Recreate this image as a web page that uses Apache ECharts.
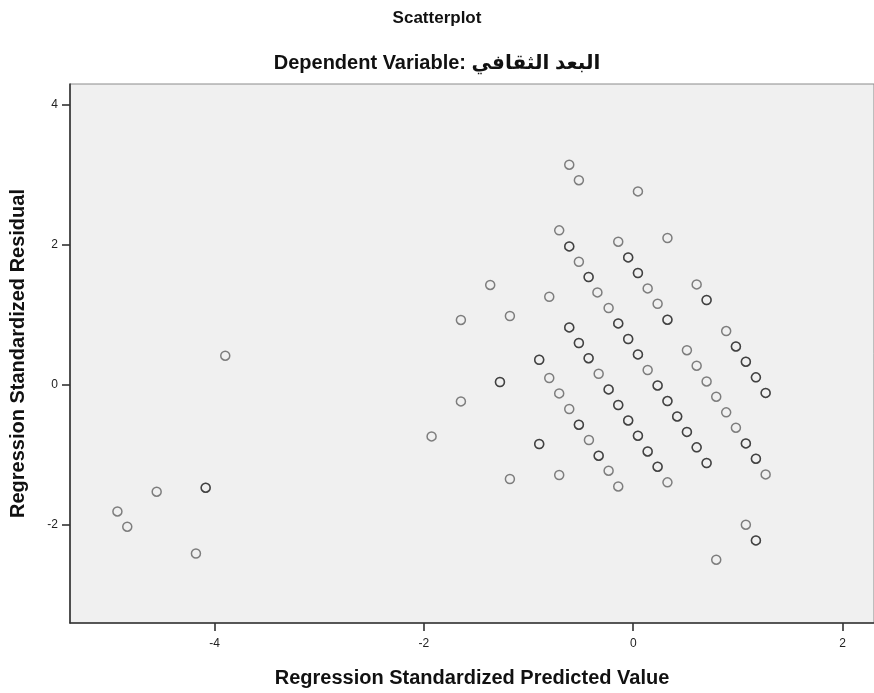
<!DOCTYPE html>
<html>
<head>
<meta charset="utf-8">
<title>Scatterplot</title>
<script src="https://cdn.jsdelivr.net/npm/echarts@6/dist/echarts.min.js"></script>
<style>
  html, body { margin: 0; padding: 0; background: #ffffff; }
  #chart { width: 874px; height: 693px; }
</style>
</head>
<body>
<div id="chart"></div>
<script>
// Regression standardized predicted value (x) for each plotted spot
const predicted = [
  -4.927, -4.833, -4.177, -4.552, -4.084, -3.897,
  -1.926, -1.646, -1.646, -1.366, -1.273, -1.178, -1.178,
  -0.898, -0.898, -0.802, -0.802, -0.707, -0.707, -0.707,
  -0.611, -0.611, -0.611, -0.611, -0.519, -0.519, -0.519, -0.519,
  -0.426, -0.426, -0.423, -0.342, -0.330, -0.330,
  -0.235, -0.235, -0.235, -0.143, -0.143, -0.143, -0.143,
  -0.048, -0.048, -0.048, 0.045, 0.045, 0.045, 0.045,
  0.138, 0.138, 0.138, 0.233, 0.233, 0.233,
  0.327, 0.327, 0.327, 0.327, 0.420, 0.513, 0.513,
  0.606, 0.606, 0.606, 0.701, 0.701, 0.701,
  0.793, 0.793, 0.888, 0.888, 0.981, 0.981,
  1.076, 1.076, 1.076, 1.172, 1.172, 1.172, 1.265, 1.265
];
// Regression standardized residual (y) for each plotted spot
const residual = [
  -1.806, -2.024, -2.407, -1.524, -1.467, 0.419,
  -0.734, 0.929, -0.234, 1.429, 0.043, 0.986, -1.343,
  0.361, -0.843, 1.261, 0.100, 2.209, -0.120, -1.286,
  3.147, 1.980, 0.823, -0.343, 2.926, 1.761, 0.600, -0.567,
  1.543, 0.383, -0.786, 1.323, 0.161, -1.010,
  1.100, -0.063, -1.224, 2.047, 0.880, -0.286, -1.449,
  1.823, 0.657, -0.506, 2.766, 1.600, 0.437, -0.724,
  1.380, 0.214, -0.949, 1.161, -0.006, -1.167,
  2.100, 0.933, -0.229, -1.391, -0.449, 0.497, -0.670,
  1.437, 0.276, -0.891, 1.214, 0.051, -1.114,
  -0.167, -2.496, 0.771, -0.391, 0.551, -0.610,
  0.333, -0.834, -1.996, 0.109, -1.053, -2.220, -0.113, -1.277
];
// Number of cases sharing each spot
const cases = [
  1, 1, 1, 1, 2, 1,
  1, 1, 1, 1, 2, 1, 1,
  2, 2, 1, 1, 1, 1, 1,
  1, 2, 2, 1, 1, 1, 2, 2,
  2, 2, 1, 1, 1, 2,
  1, 2, 1, 1, 2, 2, 1,
  2, 2, 2, 1, 2, 2, 2,
  1, 1, 2, 1, 2, 2,
  1, 2, 2, 1, 2, 1, 2,
  1, 1, 2, 2, 1, 2,
  1, 1, 1, 1, 2, 1,
  2, 2, 1, 2, 2, 2, 2, 1
];
const xTicks = [-4, -2, 0, 2];
const yTicks = [-2, 0, 2, 4];

const titleText = 'Scatterplot';
const subtitleText = 'Dependent Variable: البعد الثقافي';
const xName = 'Regression Standardized Predicted Value';
const yName = 'Regression Standardized Residual';

// One point per case; coinciding cases overlap and print darker
const points = [];
predicted.forEach((x, i) => {
  for (let k = 0; k < cases[i]; k++) points.push([x, residual[i]]);
});

const font = '"Liberation Sans", Arial, "DejaVu Sans", sans-serif';

const chart = echarts.init(document.getElementById('chart'), null, { renderer: 'canvas' });
chart.setOption({
  animation: false,
  backgroundColor: '#ffffff',
  textStyle: { fontFamily: font },
  title: [
    {
      text: titleText, left: 'center', top: 10, padding: 0,
      textStyle: { fontFamily: font, fontSize: 17, fontWeight: 'bold', color: '#111' }
    },
    {
      text: subtitleText, left: 'center', top: 53, padding: 0,
      textStyle: { fontFamily: font, fontSize: 20, fontWeight: 'bold', color: '#111' }
    }
  ],
  grid: {
    left: 70, top: 84, right: 0, bottom: 70,
    show: true, backgroundColor: '#f0f0f0',
    borderColor: '#8a8a8a', borderWidth: 1
  },
  xAxis: {
    type: 'value', min: -5.38, max: 2.3,
    name: xName, nameLocation: 'middle', nameGap: 45,
    nameTextStyle: { fontFamily: font, fontSize: 20, fontWeight: 'bold', color: '#111' },
    axisLine: { show: true, onZero: false, lineStyle: { color: '#333', width: 1.6 } },
    axisTick: { show: true, customValues: xTicks, length: 8, lineStyle: { color: '#333', width: 1.6 } },
    axisLabel: { customValues: xTicks, margin: 15, fontSize: 12, color: '#222', fontFamily: font },
    splitLine: { show: false }
  },
  yAxis: {
    type: 'value', min: -3.4, max: 4.3,
    name: yName, nameLocation: 'middle', nameGap: 42,
    nameTextStyle: { fontFamily: font, fontSize: 20, fontWeight: 'bold', color: '#111' },
    axisLine: { show: true, onZero: false, lineStyle: { color: '#333', width: 1.6 } },
    axisTick: { show: true, customValues: yTicks, length: 8, lineStyle: { color: '#333', width: 1.6 } },
    axisLabel: { customValues: yTicks, margin: 12, fontSize: 12, color: '#222', fontFamily: font },
    splitLine: { show: false }
  },
  series: [{
    type: 'scatter',
    data: points,
    symbol: 'circle',
    symbolSize: 9,
    itemStyle: { color: 'rgba(0,0,0,0)', borderColor: 'rgba(0,0,0,0.6)', borderWidth: 1.5 },
    emphasis: { disabled: true }
  }]
});
</script>
</body>
</html>
